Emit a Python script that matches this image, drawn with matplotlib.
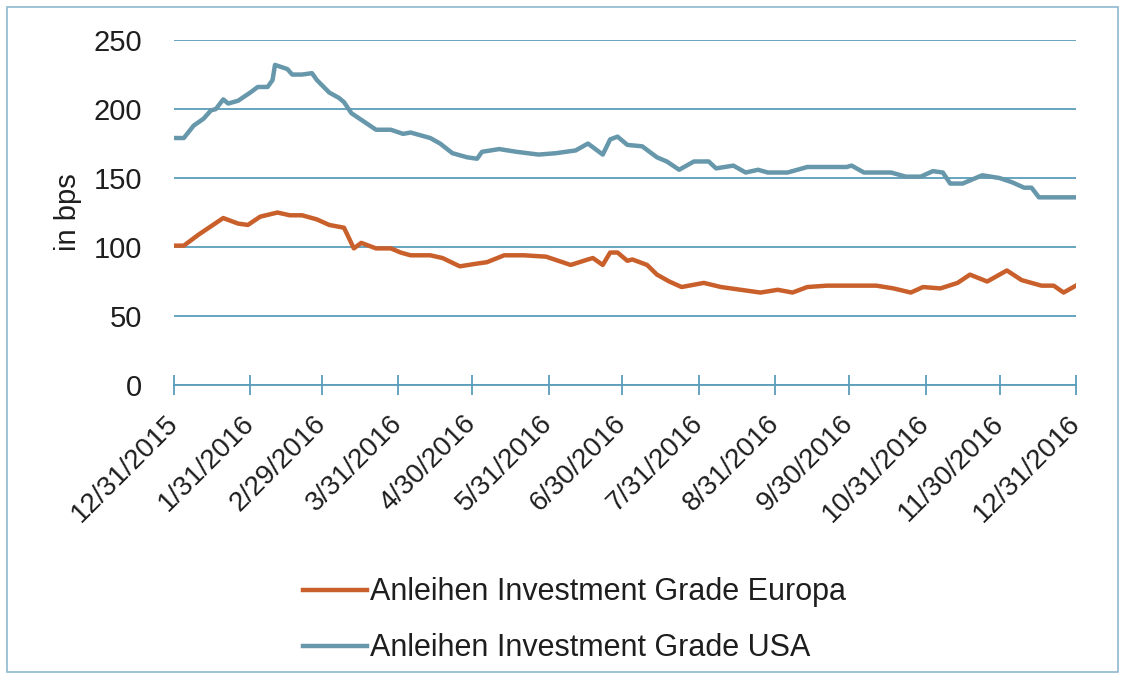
import matplotlib
matplotlib.use("Agg")
import matplotlib.pyplot as plt
from matplotlib.patches import Rectangle
import pandas as pd

plt.rcParams['font.family'] = ['Liberation Sans', 'DejaVu Sans']

# Credit spreads in bps
eu_dates = ["2015-12-31", "2016-01-04", "2016-01-10", "2016-01-20", "2016-01-26", "2016-01-30",
            "2016-02-04", "2016-02-11", "2016-02-16", "2016-02-21", "2016-02-27", "2016-03-03",
            "2016-03-09", "2016-03-13", "2016-03-16", "2016-03-22", "2016-03-28", "2016-04-01",
            "2016-04-05", "2016-04-13", "2016-04-18", "2016-04-25", "2016-05-02", "2016-05-06",
            "2016-05-13", "2016-05-21", "2016-05-30", "2016-06-09", "2016-06-16", "2016-06-18",
            "2016-06-22", "2016-06-25", "2016-06-28", "2016-07-02", "2016-07-04", "2016-07-10",
            "2016-07-14", "2016-07-19", "2016-07-24", "2016-08-02", "2016-08-09", "2016-08-17",
            "2016-08-25", "2016-09-01", "2016-09-07", "2016-09-13", "2016-09-21", "2016-10-04",
            "2016-10-11", "2016-10-18", "2016-10-25", "2016-10-30", "2016-11-06", "2016-11-13",
            "2016-11-18", "2016-11-25", "2016-12-03", "2016-12-09", "2016-12-17", "2016-12-22",
            "2016-12-26", "2016-12-31"]
eu_values = [101, 101, 109, 121, 117, 116,
             122, 125, 123, 123, 120, 116,
             114, 99, 103, 99, 99, 96,
             94, 94, 92, 86, 88, 89,
             94, 94, 93, 87, 91, 92,
             87, 96, 96, 90, 91, 87,
             80, 75, 71, 74, 71, 69,
             67, 69, 67, 71, 72, 72,
             72, 70, 67, 71, 70, 74,
             80, 75, 83, 76, 72, 72,
             67, 72]

us_dates = ["2015-12-31", "2016-01-04", "2016-01-08", "2016-01-12", "2016-01-15", "2016-01-17",
            "2016-01-20", "2016-01-22", "2016-01-26", "2016-01-31", "2016-02-03", "2016-02-07",
            "2016-02-09", "2016-02-10", "2016-02-15", "2016-02-17", "2016-02-21", "2016-02-25",
            "2016-02-27", "2016-03-03", "2016-03-07", "2016-03-09", "2016-03-12", "2016-03-17",
            "2016-03-22", "2016-03-28", "2016-04-02", "2016-04-05", "2016-04-13", "2016-04-17",
            "2016-04-22", "2016-04-28", "2016-05-02", "2016-05-04", "2016-05-11", "2016-05-18",
            "2016-05-27", "2016-06-03", "2016-06-11", "2016-06-16", "2016-06-22", "2016-06-25",
            "2016-06-28", "2016-07-02", "2016-07-08", "2016-07-14", "2016-07-18", "2016-07-23",
            "2016-07-29", "2016-08-04", "2016-08-07", "2016-08-14", "2016-08-19", "2016-08-24",
            "2016-08-28", "2016-09-05", "2016-09-13", "2016-09-21", "2016-09-29", "2016-10-01",
            "2016-10-06", "2016-10-17", "2016-10-23", "2016-10-29", "2016-11-03", "2016-11-07",
            "2016-11-10", "2016-11-15", "2016-11-23", "2016-11-30", "2016-12-05", "2016-12-10",
            "2016-12-13", "2016-12-16", "2016-12-23", "2016-12-31"]
us_values = [179, 179, 188, 193, 199, 200,
             207, 204, 206, 212, 216, 216,
             221, 232, 229, 225, 225, 226,
             221, 212, 208, 205, 197, 191,
             185, 185, 182, 183, 179, 175,
             168, 165, 164, 169, 171, 169,
             167, 168, 170, 175, 167, 178,
             180, 174, 173, 165, 162, 156,
             162, 162, 157, 159, 154, 156,
             154, 154, 158, 158, 158, 159,
             154, 154, 151, 151, 155, 154,
             146, 146, 152, 150, 147, 143,
             143, 136, 136, 136]

tick_dates = ["2015-12-31", "2016-01-31", "2016-02-29", "2016-03-31", "2016-04-30",
              "2016-05-31", "2016-06-30", "2016-07-31", "2016-08-31", "2016-09-30",
              "2016-10-31", "2016-11-30", "2016-12-31"]
tick_labels = ["12/31/2015", "1/31/2016", "2/29/2016", "3/31/2016", "4/30/2016",
               "5/31/2016", "6/30/2016", "7/31/2016", "8/31/2016", "9/30/2016",
               "10/31/2016", "11/30/2016", "12/31/2016"]

orange = "#C9602B"
blue = "#6797AB"
grid_col = "#5A9DBA"
txt = "#1E1E1E"

fig = plt.figure(figsize=(11.26, 6.79), dpi=100)
ax = fig.add_axes([0.1545, 0.433, 0.801, 0.508])

ax.plot(pd.to_datetime(eu_dates), eu_values, color=orange, lw=3.2,
        label="Anleihen Investment Grade Europa")
ax.plot(pd.to_datetime(us_dates), us_values, color=blue, lw=3.2,
        label="Anleihen Investment Grade USA")

ax.set_ylim(0, 250)
ax.set_xlim(pd.Timestamp("2015-12-31"), pd.Timestamp("2016-12-31"))
ax.set_yticks([0, 50, 100, 150, 200, 250])
ax.yaxis.grid(True, color=grid_col, lw=1.3)
ax.set_axisbelow(True)
for s in ["left", "right", "top"]:
    ax.spines[s].set_visible(False)
ax.spines["bottom"].set_color(grid_col)
ax.spines["bottom"].set_linewidth(1.3)

ax.set_xticks(pd.to_datetime(tick_dates))
ax.set_xticklabels(tick_labels, rotation=45, ha="right", va="center",
                   rotation_mode="anchor")
ax.tick_params(axis="x", direction="inout", length=14, width=1.3, color=grid_col,
               labelsize=20, pad=18, labelcolor=txt)
ax.tick_params(axis="y", length=0, pad=23, labelsize=21, labelcolor=txt)

ax.set_ylabel("in bps", fontsize=21, color=txt)
ax.yaxis.set_label_coords(-0.102, 0.5)

fig.legend(loc="upper center", bbox_to_anchor=(0.51, 0.19), frameon=False,
           fontsize=22, handlelength=2.1, handletextpad=0.1, labelspacing=0.85,
           labelcolor=txt)

fig.patches.append(Rectangle((7 / 1126, 7 / 679), 1111 / 1126, 665 / 679,
                             transform=fig.transFigure, fill=False,
                             edgecolor="#8FB8CF", lw=1.2))

fig.savefig("out.png", dpi=100)
